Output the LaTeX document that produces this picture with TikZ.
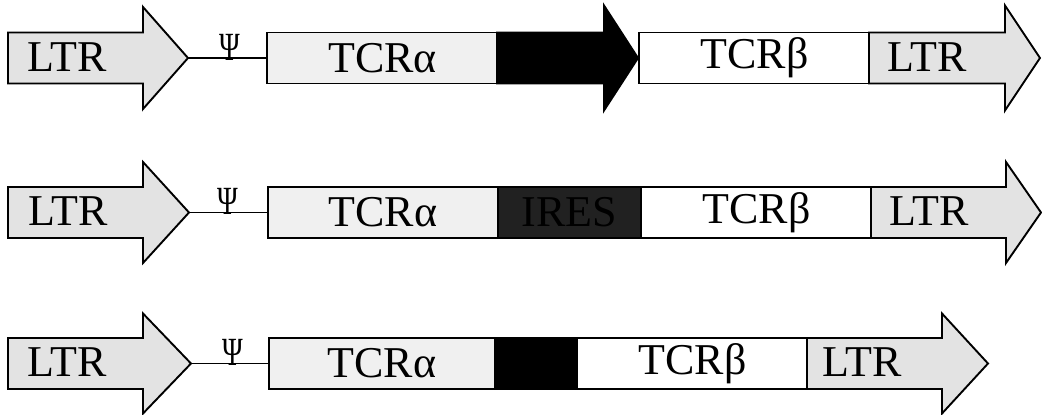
\documentclass[tikz,border=0pt]{standalone}
\usepackage{fontspec}
\setmainfont{Liberation Serif}
\tikzset{
  outline/.style={draw=black, line width=1.9pt, line join=miter},
  pale/.style={outline, fill=black!11},
  paler/.style={outline, fill=black!6},
  plain/.style={outline, fill=white},
  blackfill/.style={outline, fill=black},
  iresfill/.style={outline, fill=black!87},
  lbl/.style={font=\fontsize{44}{50}\selectfont, inner sep=0pt},
  psilbl/.style={font=\fontsize{40}{42}\selectfont, inner sep=0pt, anchor=base},
  seg/.style={minimum height=51pt, anchor=west, inner sep=0pt, font=\fontsize{44}{50}\selectfont},
}
% block arrow: style, left x, head start x, tip x, centre y, half shaft, half head
\newcommand\blockarrow[7]{%
  \path[#1] (#2,#5-#6) -- (#3,#5-#6) -- (#3,#5-#7) -- (#4,#5)
    -- (#3,#5+#7) -- (#3,#5+#6) -- (#2,#5+#6) -- cycle;}
\newcommand\psiglyph{\scalebox{0.7}[1]{Ψ}}
\begin{document}
\begin{tikzpicture}[x=1pt, y=-1pt]
\useasboundingbox (0,0) rectangle (1042,415);

% ---- construct 1: TCRalpha - promoter arrow - TCRbeta
\node[seg, paler, minimum width=231pt] (a1) at (266,58) {TCRα};
\node[seg, plain, minimum width=231pt] (b1) at (638,58) {TCRβ};
\blockarrow{pale}{8}{143}{188}{58}{25.5}{51}
\coordinate (t1) at (188,58);
\node[lbl] (l1) at (67,57) {LTR};
\blockarrow{blackfill}{497}{604}{638}{58}{25.5}{52.5}
\blockarrow{pale}{869}{1005}{1040}{58}{25.5}{52.5}
\node[lbl] (r1) at (927,57) {LTR};
\draw[outline] (t1) -- (a1.west);
\node[psilbl] (p1) at (230,60) {\psiglyph};

% ---- construct 2: TCRalpha - IRES - TCRbeta
\node[seg, paler, minimum width=230pt] (a2) at (267,212.5) {TCRα};
\node[seg, iresfill, minimum width=143pt, text=black] (i2) at (497,212.5) {IRES};
\node[seg, plain, minimum width=231pt] (b2) at (640,212.5) {TCRβ};
\blockarrow{pale}{8}{143}{189}{212.5}{25.5}{50.5}
\coordinate (t2) at (189,212.5);
\node[lbl] (l2) at (68,211.5) {LTR};
\blockarrow{pale}{871}{1006}{1041}{212.5}{25.5}{50.5}
\node[lbl] (r2) at (929,211.5) {LTR};
\draw[outline] (t2) -- (a2.west);
\node[psilbl] (p2) at (228,214.5) {\psiglyph};

% ---- construct 3: TCRalpha - short linker - TCRbeta
\node[seg, paler, minimum width=226pt] (a3) at (268,363.5) {TCRα};
\node[seg, blackfill, minimum width=82pt] (k3) at (494,363.5) {};
\node[seg, plain, minimum width=231pt] (b3) at (576,363.5) {TCRβ};
\blockarrow{pale}{8}{143}{191}{363.5}{25.5}{50}
\coordinate (t3) at (191,363.5);
\node[lbl] (l3) at (67,362.5) {LTR};
\blockarrow{pale}{807}{942}{988}{363.5}{25.5}{50}
\node[lbl] (r3) at (862,362.5) {LTR};
\draw[outline] (t3) -- (a3.west);
\node[psilbl] (p3) at (233,365.5) {\psiglyph};
\end{tikzpicture}
\end{document}
